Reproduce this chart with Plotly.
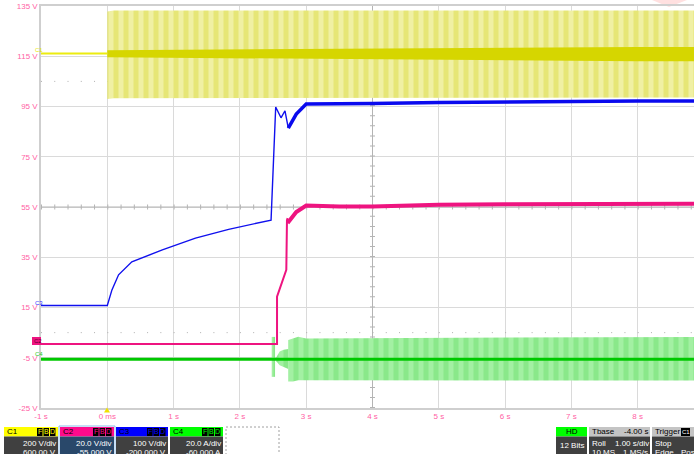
import plotly.graph_objects as go

# ---------------- data ----------------
x_ticks = [-1, 0, 1, 2, 3, 4, 5, 6, 7, 8]
x_ticklabels = ["-1 s", "0 ms", "1 s", "2 s", "3 s", "4 s", "5 s", "6 s", "7 s", "8 s"]
y_ticks = [135, 115, 95, 75, 55, 35, 15, -5, -25]
y_ticklabels = ["135 V", "115 V", "95 V", "75 V", "55 V", "35 V", "15 V", "-5 V", "-25 V"]

# C1 (yellow)
c1_pre_t = [-1.0, 0.0]
c1_pre_v = [116.1, 116.1]
c1_env_t = [0.0, 0.1, 8.85]
c1_env_hi = [132.8, 133.2, 133.2]
c1_env_lo = [98.0, 98.3, 98.6]
c1_core_t = [0.0, 1.0, 2.0, 3.0, 4.0, 5.0, 6.0, 7.0, 8.0, 8.85]
c1_core_hi = [117.4, 117.6, 117.8, 118.0, 118.2, 118.4, 118.5, 118.6, 118.7, 118.7]
c1_core_lo = [114.6, 114.4, 114.2, 114.0, 113.8, 113.6, 113.4, 113.2, 113.0, 113.0]

# C2 (magenta)
c2_a_t = [-1.0, 2.56, 2.56, 2.70, 2.71, 2.72]
c2_a_v = [0.5, 0.5, 19.3, 30.0, 49.8, 50.6]
c2_b_t = [2.72, 2.85, 3.0, 3.5, 4.0, 4.5, 5.0, 6.0, 7.0, 8.0, 8.85]
c2_b_v = [48.6, 53.0, 55.6, 55.2, 55.2, 55.5, 55.9, 56.1, 56.2, 56.2, 56.3]

# C3 (blue)
c3_a_t = [-1.0, 0.0, 0.07, 0.17, 0.37, 0.83, 1.33, 1.83, 2.47, 2.54, 2.62, 2.68, 2.73]
c3_a_v = [15.8, 15.8, 22.0, 28.0, 33.2, 37.9, 42.6, 46.1, 49.8, 94.8, 90.5, 93.3, 86.4]
c3_b_t = [2.73, 2.85, 3.0, 3.5, 4.0, 5.0, 6.0, 7.0, 8.0, 8.85]
c3_b_v = [86.4, 92.0, 96.0, 96.0, 96.2, 96.6, 96.9, 97.1, 97.2, 97.2]

# C4 (green)
c4_core_t = [-1.0, 8.85]
c4_core_v = [-5.6, -5.6]
c4_spike_t = [2.48, 2.53]
c4_spike_hi = [3.3, 3.3]
c4_spike_lo = [-12.6, -12.6]
c4_pre_t = [2.55, 2.60, 2.66, 2.73]
c4_pre_hi = [-4.8, -2.5, -1.8, -1.5]
c4_pre_lo = [-6.4, -8.0, -8.8, -9.5]
c4_env_t = [2.73, 2.80, 2.88, 3.0, 4.0, 5.0, 6.0, 7.0, 8.0, 8.85]
c4_env_hi = [2.1, 2.6, 3.4, 2.7, 2.8, 3.0, 3.2, 3.3, 3.3, 3.3]
c4_env_lo = [-14.5, -14.5, -14.0, -13.8, -13.8, -13.8, -14.0, -14.1, -14.1, -14.1]

# ---------------- layout geometry ----------------
W, H = 694, 454
L, T, B = 41, 6, 46
PW, PH = W - L, H - T - B
X_RANGE = [-1.0, -1.0 + PW / 66.3]
Y_RANGE = [-25, 135]

def px(x):
    return (x - L) / PW

def py(y):
    return (H - B - y) / PH

FONT = "Liberation Sans, Arial, sans-serif"
PINK = "#FF5FA5"

def poly(t, hi, lo):
    return list(t) + list(t[::-1]), list(hi) + list(lo[::-1])

fig = go.Figure()

# C1 envelope with stripes
xx, yy = poly(c1_env_t, c1_env_hi, c1_env_lo)
fig.add_trace(go.Scatter(x=xx, y=yy, fill="toself", mode="lines", line=dict(width=0),
                         fillcolor="#ECEC88",
                         fillpattern=dict(shape="|", fgcolor="#E6E676", bgcolor="#F0F0A4",
                                          size=10, solidity=0.5, fillmode="replace")))
xx, yy = poly(c1_core_t, c1_core_hi, c1_core_lo)
fig.add_trace(go.Scatter(x=xx, y=yy, fill="toself", mode="lines", line=dict(width=0),
                         fillcolor="#D6D600"))
fig.add_trace(go.Scatter(x=c1_pre_t, y=c1_pre_v, mode="lines",
                         line=dict(color="#ECEC10", width=2)))

# C4 envelope
green_pat = dict(shape="|", fgcolor="#8AE88A", bgcolor="#A3F0A3", size=10, solidity=0.5,
                 fillmode="replace")
for t, hi, lo in [(c4_spike_t, c4_spike_hi, c4_spike_lo),
                  (c4_pre_t, c4_pre_hi, c4_pre_lo),
                  (c4_env_t, c4_env_hi, c4_env_lo)]:
    xx, yy = poly(t, hi, lo)
    fig.add_trace(go.Scatter(x=xx, y=yy, fill="toself", mode="lines", line=dict(width=0),
                             fillcolor="#94EC94", fillpattern=green_pat))
fig.add_trace(go.Scatter(x=c4_core_t, y=c4_core_v, mode="lines",
                         line=dict(color="#00C800", width=3)))

# C2
fig.add_trace(go.Scatter(x=c2_a_t, y=c2_a_v, mode="lines",
                         line=dict(color="#EE1480", width=2)))
fig.add_trace(go.Scatter(x=c2_b_t, y=c2_b_v, mode="lines",
                         line=dict(color="#EE1480", width=4)))

# C3
fig.add_trace(go.Scatter(x=c3_a_t, y=c3_a_v, mode="lines",
                         line=dict(color="#1010EE", width=1.4)))
fig.add_trace(go.Scatter(x=c3_b_t, y=c3_b_v, mode="lines",
                         line=dict(color="#0A0AEE", width=3.5)))

shapes = []
ann = []

# center cross with ticks and dotted reference lines
shapes.append(dict(type="line", xref="x", yref="y", x0=X_RANGE[0], x1=X_RANGE[1], y0=55, y1=55,
                   line=dict(color="#B4B4B4", width=1), layer="between"))
shapes.append(dict(type="line", xref="x", yref="y", x0=X_RANGE[0], x1=X_RANGE[1], y0=55, y1=55,
                   line=dict(color="#B4B4B4", width=5, dash="1px,12.26px"), layer="between"))
shapes.append(dict(type="line", xref="x", yref="y", x0=4, x1=4, y0=-25, y1=135,
                   line=dict(color="#B4B4B4", width=1), layer="between"))
shapes.append(dict(type="line", xref="x", yref="y", x0=4, x1=4, y0=-25, y1=135,
                   line=dict(color="#B4B4B4", width=5, dash="1px,9.06px"), layer="between"))
for yv in (105, 5):
    shapes.append(dict(type="line", xref="x", yref="y", x0=X_RANGE[0], x1=X_RANGE[1], y0=yv, y1=yv,
                       line=dict(color="#B0B0B0", width=1, dash="1px,12.26px"), layer="between"))

def rect(x0, y0, x1, y1, fill, line=None):
    shapes.append(dict(type="rect", xref="paper", yref="paper", x0=px(x0), x1=px(x1),
                       y0=py(y1), y1=py(y0), fillcolor=fill,
                       line=line if line else dict(width=0), layer="above"))

def txt(x, y, s, color, size=8, anchor="left"):
    ann.append(dict(x=px(x), y=py(y), xref="paper", yref="paper", text=s, showarrow=False,
                    xanchor=anchor, yanchor="middle", borderpad=0,
                    font=dict(family=FONT, size=size, color=color)))

# faint marker top right
shapes.append(dict(type="path", xref="paper", yref="paper",
                   path=f"M {px(652)} {py(0)} L {px(687)} {py(0)} L {px(669)} {py(7)} Z",
                   fillcolor="#FFE0E0", line=dict(width=0), layer="below"))

# trigger marker at 0
shapes.append(dict(type="path", xref="paper", yref="paper",
                   path=f"M {px(104)} {py(412.5)} L {px(110)} {py(412.5)} L {px(107)} {py(407.5)} Z",
                   fillcolor="#F0E000", line=dict(width=0), layer="above"))

# channel markers on the left
txt(34, 50, "C1", "#E8E800", size=6)
txt(34, 303, "C3", "#3030FF", size=6)
rect(32, 337, 41, 345, "#EE1480")
txt(33, 341, "C2", "#5A0030", size=6)
txt(34, 354, "C4", "#22CC22", size=6)

# ---------------- status bar ----------------
HT, HB, BB = 427, 436.5, 456
channels = [
    (4, 58, "#FFFF00", "#404040", "C1", "200 V/div", "600.00 V"),
    (60, 114, "#FF0A8C", "#29486A", "C2", "20.0 V/div", "-55.000 V"),
    (116, 168, "#0000FF", "#404040", "C3", "100 V/div", "-200.000 V"),
    (170, 223, "#00FF00", "#404040", "C4", "20.0 A/div", "-60.000 A"),
]
for x0, x1, hc, bc, name, l1, l2 in channels:
    rect(x0, HT, x1, HB, hc)
    rect(x0, HB, x1, BB, bc)
    txt(x0 + 2, 431.8, name, "#000000", size=8)
    for i, letter in enumerate("FBD"):
        bx = x1 - 21 + i * 6.5
        rect(bx, HT + 1, bx + 5.5, HB - 0.5, "#000000")
        txt(bx + 2.75, 431.8, letter, hc, size=7, anchor="center")
    txt(x1 - 1, 443.5, l1, "#FFFFFF", size=8, anchor="right")
    txt(x1 - 1, 452.5, l2, "#FFFFFF", size=8, anchor="right")

# selection outline around C2
shapes.append(dict(type="rect", xref="paper", yref="paper", x0=px(59), x1=px(115),
                   y0=py(455), y1=py(426), fillcolor="rgba(0,0,0,0)",
                   line=dict(color="#8DBDEB", width=1), layer="above"))
# empty dashed slot
shapes.append(dict(type="rect", xref="paper", yref="paper", x0=px(226), x1=px(279),
                   y0=py(455), y1=py(427), fillcolor="rgba(0,0,0,0)",
                   line=dict(color="#A0A0A0", width=1, dash="2px,2px"), layer="above"))

# HD
rect(556, HT, 587, HB, "#00FF00")
rect(556, HB, 587, BB, "#404040")
txt(571.5, 431.8, "HD", "#000000", size=8, anchor="center")
txt(571.5, 446, "12 Bits", "#FFFFFF", size=8, anchor="center")

# Tbase
rect(589, HT, 650, HB, "#C4C4C4")
rect(589, HB, 650, BB, "#404040")
txt(591, 431.8, "Tbase", "#000000", size=8)
txt(649, 431.8, "-4.00 s", "#000000", size=8, anchor="right")
txt(591, 443.5, "Roll", "#FFFFFF", size=8)
txt(650, 443.5, "1.00 s/div", "#FFFFFF", size=8, anchor="right")
txt(591, 452.5, "10 MS", "#FFFFFF", size=8)
txt(649, 452.5, "1 MS/s", "#FFFFFF", size=8, anchor="right")

# Trigger
rect(652, HT, 700, HB, "#C4C4C4")
rect(652, HB, 700, BB, "#404040")
txt(654, 431.8, "Trigger", "#000000", size=8)
rect(681, HT + 1, 690, HB - 0.5, "#000000")
txt(685.5, 431.8, "C1", "#FFFFFF", size=6, anchor="center")
txt(654, 443.5, "Stop", "#FFFFFF", size=8)
txt(654, 452.5, "Edge", "#FFFFFF", size=8)
txt(680, 452.5, "Posi", "#FFFFFF", size=8)

fig.update_layout(
    width=W, height=H,
    margin=dict(l=L, r=0, t=T, b=B, pad=0),
    paper_bgcolor="#FFFFFF", plot_bgcolor="#FFFFFF",
    showlegend=False, hovermode=False,
    shapes=shapes, annotations=ann,
    xaxis=dict(range=X_RANGE, tickvals=x_ticks, ticktext=x_ticklabels,
               showgrid=True, gridcolor="#DADADA", gridwidth=1, zeroline=False,
               showline=True, linecolor="#CFCFCF", linewidth=1.5, mirror=True,
               ticks="", tickfont=dict(family=FONT, size=8, color=PINK), fixedrange=True),
    yaxis=dict(range=Y_RANGE, tickvals=y_ticks, ticktext=y_ticklabels,
               showgrid=True, gridcolor="#DADADA", gridwidth=1, zeroline=False,
               showline=True, linecolor="#CFCFCF", linewidth=1.5,
               ticks="", tickfont=dict(family=FONT, size=8, color=PINK), fixedrange=True),
)

fig.write_html("out.html", config={"displayModeBar": False},
               post_script="document.body.style.margin='0';document.body.style.overflow='hidden';")
